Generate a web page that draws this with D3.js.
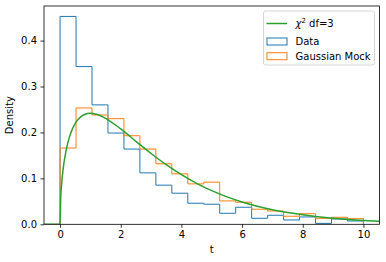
<!DOCTYPE html>
<html>
<head>
<meta charset="utf-8">
<script src="https://cdn.jsdelivr.net/npm/d3@7"></script>
<style>
  body { margin: 0; background: #fff; }
  svg { display: block; font-family: "DejaVu Sans", sans-serif; }
</style>
</head>
<body>
<div id="container"></div>
<script>
// 19 bins between 0 and 10
const binEdges = d3.range(20).map(i => i * 10 / 19);
const dataDensity = [0.4526, 0.3434, 0.260, 0.1987, 0.1638, 0.112, 0.0852, 0.0677, 0.0459, 0.0437,
  0.024, 0.0371, 0.0131, 0.0197, 0.0094, 0.016, 0.002, 0.0116, 0.0072];
const mockDensity = [0.166, 0.2533, 0.238, 0.230, 0.1928, 0.1638, 0.1317, 0.1098, 0.088, 0.0917,
  0.0509, 0.048, 0.0328, 0.029, 0.0175, 0.0231, 0.0131, 0.0153, 0.0122];
// chi2 df=3 curve, sampled
const curveT = [-0.53, 0, 0.02, 0.05, 0.1, 0.2, 0.3, 0.4, 0.5, 0.6, 0.8, 1.0, 1.2, 1.5, 2.0, 2.5, 3.0,
  3.5, 4.0, 4.5, 5.0, 5.5, 6.0, 6.5, 7.0, 7.5, 8.0, 8.5, 9.0, 9.5, 10.0, 10.53];
const curveP = [0, 0, 0.0559, 0.0870, 0.1200, 0.1614, 0.1881, 0.2066, 0.2197, 0.2289, 0.2392, 0.2420,
  0.2398, 0.2308, 0.2076, 0.1807, 0.1542, 0.1297, 0.1080, 0.0892, 0.0732, 0.0598, 0.0487, 0.0395,
  0.0319, 0.0257, 0.0207, 0.0166, 0.0133, 0.0106, 0.0085, 0.0068];
const xTicks = [0, 2, 4, 6, 8, 10];
const yTicks = [0, 0.1, 0.2, 0.3, 0.4];

const width = 386, height = 262;
const m = { left: 44, top: 6, right: 6.5, bottom: 37.7 };
const w = width - m.left - m.right, h = height - m.top - m.bottom;

const svg = d3.select('#container').append('svg')
  .attr('width', width).attr('height', height);
const g = svg.append('g').attr('transform', `translate(${m.left},${m.top})`);

const x = d3.scaleLinear().domain([-0.53, 10.53]).range([0, w]);
const y = d3.scaleLinear().domain([0, 0.4753]).range([h, 0]);

const clip = svg.append('clipPath').attr('id', 'clip')
  .append('rect').attr('width', w).attr('height', h);
const plot = g.append('g').attr('clip-path', 'url(#clip)');

function stepPoints(vals) {
  const pts = [[binEdges[0], 0]];
  vals.forEach((v, i) => {
    pts.push([binEdges[i], v]);
    pts.push([binEdges[i + 1], v]);
  });
  pts.push([binEdges[vals.length], 0]);
  return pts;
}
const line = d3.line().x(d => x(d[0])).y(d => y(d[1]));

plot.append('path').datum(stepPoints(dataDensity))
  .attr('d', line).attr('fill', 'none').attr('stroke', '#1f77b4').attr('stroke-width', 1);
plot.append('path').datum(stepPoints(mockDensity))
  .attr('d', line).attr('fill', 'none').attr('stroke', '#ff7f0e').attr('stroke-width', 1);
plot.append('path').datum(curveT.map((t, i) => [t, curveP[i]]))
  .attr('d', line.curve(d3.curveMonotoneX)).attr('fill', 'none')
  .attr('stroke', '#2ca02c').attr('stroke-width', 1.5);

// axes
const xAxis = g.append('g').attr('transform', `translate(0,${h})`)
  .call(d3.axisBottom(x).tickValues(xTicks).tickSize(3.5).tickPadding(3.5).tickFormat(d3.format('d')));
const yAxis = g.append('g')
  .call(d3.axisLeft(y).tickValues(yTicks).tickSize(3.5).tickPadding(3.5).tickFormat(d3.format('.1f')));
[xAxis, yAxis].forEach(a => {
  a.select('.domain').remove();
  a.selectAll('line').attr('stroke', '#000').attr('stroke-width', 0.8);
  a.selectAll('text').attr('font-size', 10).attr('fill', '#000')
    .attr('font-family', '"DejaVu Sans", sans-serif');
});
g.append('rect').attr('width', w).attr('height', h)
  .attr('fill', 'none').attr('stroke', '#000').attr('stroke-width', 0.8);

g.append('text').attr('x', w / 2).attr('y', h + 29).attr('text-anchor', 'middle')
  .attr('font-size', 10).text('t');
g.append('text').attr('transform', `translate(-31,${h / 2}) rotate(-90)`)
  .attr('text-anchor', 'middle').attr('font-size', 10).text('Density');

// legend
const lg = svg.append('g').attr('transform', 'translate(263.5,11)');
lg.append('rect').attr('width', 111).attr('height', 54).attr('rx', 2)
  .attr('fill', '#fff').attr('fill-opacity', 0.8).attr('stroke', '#cccccc').attr('stroke-width', 0.8);
lg.append('line').attr('x1', 3).attr('x2', 23.5).attr('y1', 12.5).attr('y2', 12.5)
  .attr('stroke', '#2ca02c').attr('stroke-width', 1.5);
const chi = lg.append('text').attr('x', 32).attr('y', 16).attr('font-size', 10);
chi.append('tspan').attr('font-style', 'italic').text('χ');
chi.append('tspan').attr('font-size', 7).attr('dy', -4).text('2');
chi.append('tspan').attr('dy', 4).text(' df=3');
const entries = [['Data', '#1f77b4'], ['Gaussian Mock', '#ff7f0e']];
entries.forEach((e, i) => {
  const yy = 30 + i * 14.7;
  lg.append('rect').attr('x', 3.5).attr('y', yy - 3).attr('width', 20).attr('height', 7)
    .attr('fill', 'none').attr('stroke', e[1]).attr('stroke-width', 1);
  lg.append('text').attr('x', 32).attr('y', yy + 4).attr('font-size', 10).text(e[0]);
});
</script>
</body>
</html>
